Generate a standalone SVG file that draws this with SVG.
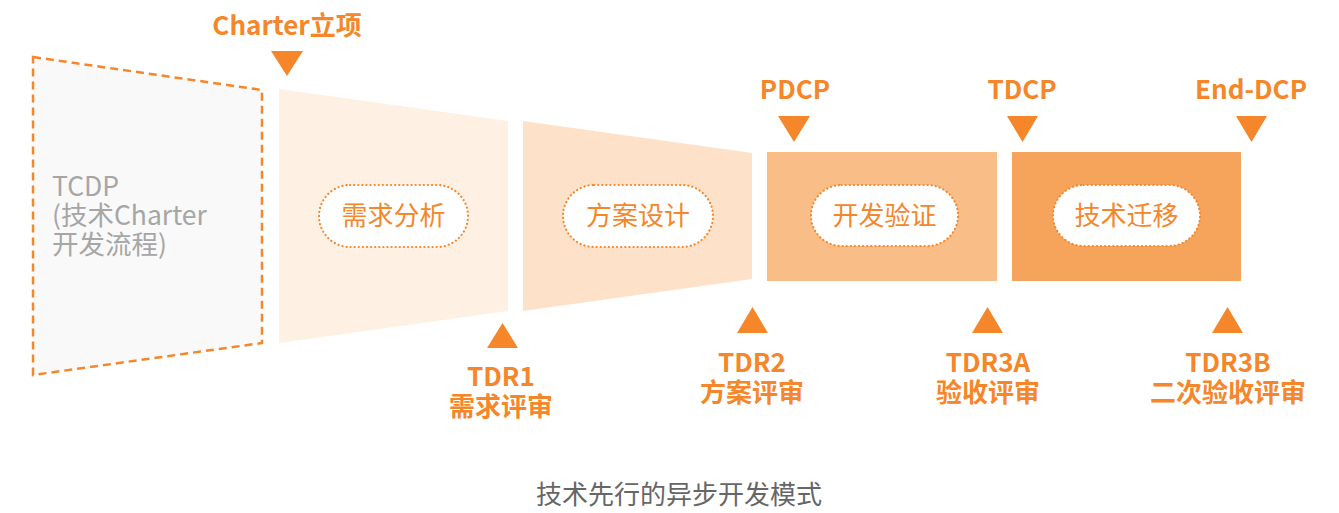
<svg xmlns="http://www.w3.org/2000/svg" width="1339" height="513" viewBox="0 0 1339 513">
<style>
.lbl{font-family:"Noto Sans CJK SC","Noto Sans",sans-serif;font-weight:bold;font-size:26px;fill:#f5862a;text-anchor:middle}
.pilltxt{font-family:"Noto Sans CJK SC","Noto Sans",sans-serif;font-size:26px;fill:#f5862a;text-anchor:middle}
.pill{fill:#ffffff;stroke:#f5862a;stroke-width:2.2;stroke-dasharray:0.1 4;stroke-linecap:round}
.tri{fill:#f5862a}
.gray{font-family:"Noto Sans CJK SC","Noto Sans",sans-serif;font-size:26.5px;fill:#a6a6a6}
.cap{font-family:"Noto Sans CJK SC","Noto Sans",sans-serif;font-size:26px;fill:#666666;text-anchor:middle}
</style>
<rect width="1339" height="513" fill="#ffffff"/>
<g id="tcdp">
<polygon points="33,57 262,90 262,343 33,375" fill="#f9f9f9" stroke="#f5862a" stroke-width="2.5" stroke-dasharray="8 5"/>
<text class="gray" x="52" y="196">TCDP</text>
<text class="gray" x="52" y="225">(技术Charter</text>
<text class="gray" x="52" y="254">开发流程)</text>
</g>
<g id="stage1">
<polygon points="279,89 508,121 508,311 279,343" fill="#fef0e3"/>
<rect class="pill" x="319" y="185" width="149" height="62" rx="31"/>
<text class="pilltxt" x="393.5" y="225">需求分析</text>
</g>
<g id="stage2">
<polygon points="523,121 752,153 752,279 523,311" fill="#fde1c8"/>
<rect class="pill" x="563" y="185" width="150" height="62" rx="31"/>
<text class="pilltxt" x="638" y="225">方案设计</text>
</g>
<g id="stage3">
<rect x="767" y="152" width="230" height="129" fill="#f9bd88"/>
<rect class="pill" x="811" y="185" width="147" height="61" rx="30.5"/>
<text class="pilltxt" x="884.5" y="225">开发验证</text>
</g>
<g id="stage4">
<rect x="1012" y="152" width="229" height="129" fill="#f6a45c"/>
<rect class="pill" x="1053" y="185" width="147" height="61" rx="30.5"/>
<text class="pilltxt" x="1126.5" y="225">技术迁移</text>
</g>
<g id="markers">
<g id="charter">
<text class="lbl" x="287" y="35">Charter立项</text>
<polygon class="tri" points="271,51 303,51 287,76"/>
</g>
<g id="pdcp">
<text class="lbl" x="795" y="99">PDCP</text>
<polygon class="tri" points="778,116 810,116 794,142"/>
</g>
<g id="tdcp">
<text class="lbl" x="1022" y="99">TDCP</text>
<polygon class="tri" points="1007,116 1038,116 1022.5,142"/>
</g>
<g id="enddcp">
<text class="lbl" x="1251" y="99">End-DCP</text>
<polygon class="tri" points="1236,116 1267,116 1251.5,142"/>
</g>
<g id="tdr1">
<polygon class="tri" points="487,348 518,348 502.5,323"/>
<text class="lbl" x="501" y="386">TDR1</text>
<text class="lbl" x="501" y="416">需求评审</text>
</g>
<g id="tdr2">
<polygon class="tri" points="737,333 768,333 752.5,307"/>
<text class="lbl" x="752" y="372">TDR2</text>
<text class="lbl" x="752" y="402">方案评审</text>
</g>
<g id="tdr3a">
<polygon class="tri" points="972,333 1003,333 987.5,307"/>
<text class="lbl" x="988" y="372">TDR3A</text>
<text class="lbl" x="988" y="402">验收评审</text>
</g>
<g id="tdr3b">
<polygon class="tri" points="1212,333 1243,333 1227.5,307"/>
<text class="lbl" x="1228" y="372">TDR3B</text>
<text class="lbl" x="1228" y="402">二次验收评审</text>
</g>
</g>
<g id="connectors"></g>
<text class="cap" x="679" y="504">技术先行的异步开发模式</text>
</svg>
